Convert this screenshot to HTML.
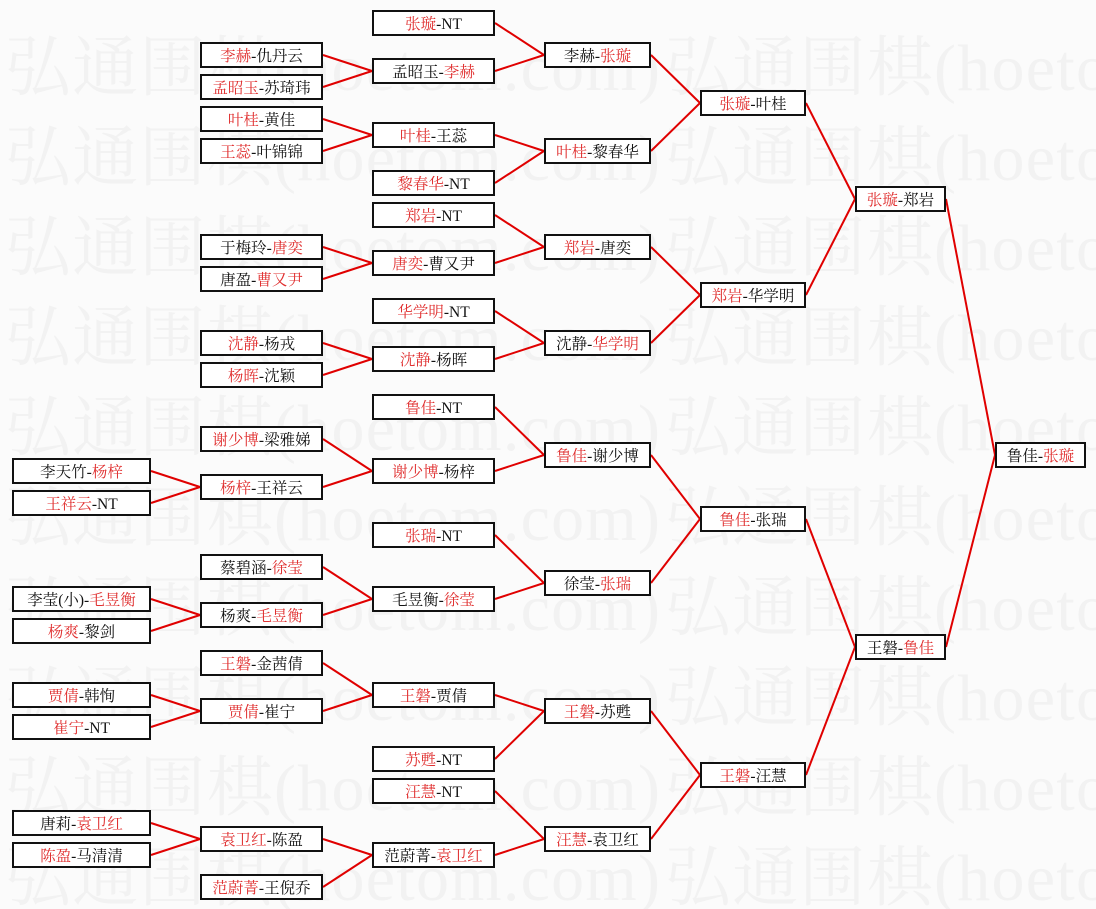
<!DOCTYPE html>
<html>
<head>
<meta charset="utf-8">
<style>
  html, body { margin:0; padding:0; background:#fbfbfb; }
  svg { display:block; }
  .wm { font-family:"Liberation Serif","Noto Serif CJK SC",serif; font-size:66px; fill:#f2f2f2; }
  .lb { font-family:"Liberation Serif","Noto Serif CJK SC",serif; font-size:15.5px; fill:#111; text-anchor:middle; }
  .r { fill:#e03030; }
  .bx rect { fill:#fff; stroke:#111; stroke-width:2; }
  .ln line { stroke:#e00000; stroke-width:2; }
</style>
</head>
<body>
<svg width="1096" height="909" viewBox="0 0 1096 909" xmlns="http://www.w3.org/2000/svg">
  <rect x="0" y="0" width="1096" height="909" fill="#fbfbfb"/>
  <!-- watermark -->
  <g class="wm">
    <text x="5" y="90" textLength="655" lengthAdjust="spacing">弘通围棋(hoetom.com)</text><text x="665" y="90" textLength="655" lengthAdjust="spacing">弘通围棋(hoetom.com)</text>
    <text x="5" y="180" textLength="655" lengthAdjust="spacing">弘通围棋(hoetom.com)</text><text x="665" y="180" textLength="655" lengthAdjust="spacing">弘通围棋(hoetom.com)</text>
    <text x="5" y="270" textLength="655" lengthAdjust="spacing">弘通围棋(hoetom.com)</text><text x="665" y="270" textLength="655" lengthAdjust="spacing">弘通围棋(hoetom.com)</text>
    <text x="5" y="360" textLength="655" lengthAdjust="spacing">弘通围棋(hoetom.com)</text><text x="665" y="360" textLength="655" lengthAdjust="spacing">弘通围棋(hoetom.com)</text>
    <text x="5" y="450" textLength="655" lengthAdjust="spacing">弘通围棋(hoetom.com)</text><text x="665" y="450" textLength="655" lengthAdjust="spacing">弘通围棋(hoetom.com)</text>
    <text x="5" y="540" textLength="655" lengthAdjust="spacing">弘通围棋(hoetom.com)</text><text x="665" y="540" textLength="655" lengthAdjust="spacing">弘通围棋(hoetom.com)</text>
    <text x="5" y="630" textLength="655" lengthAdjust="spacing">弘通围棋(hoetom.com)</text><text x="665" y="630" textLength="655" lengthAdjust="spacing">弘通围棋(hoetom.com)</text>
    <text x="5" y="720" textLength="655" lengthAdjust="spacing">弘通围棋(hoetom.com)</text><text x="665" y="720" textLength="655" lengthAdjust="spacing">弘通围棋(hoetom.com)</text>
    <text x="5" y="810" textLength="655" lengthAdjust="spacing">弘通围棋(hoetom.com)</text><text x="665" y="810" textLength="655" lengthAdjust="spacing">弘通围棋(hoetom.com)</text>
    <text x="5" y="900" textLength="655" lengthAdjust="spacing">弘通围棋(hoetom.com)</text><text x="665" y="900" textLength="655" lengthAdjust="spacing">弘通围棋(hoetom.com)</text>
  </g>

  <!-- connectors -->
  <g class="ln">
    <line x1="151" y1="471" x2="200" y2="487"/><line x1="151" y1="503" x2="200" y2="487"/>
    <line x1="151" y1="599" x2="200" y2="615"/><line x1="151" y1="631" x2="200" y2="615"/>
    <line x1="151" y1="695" x2="200" y2="711"/><line x1="151" y1="727" x2="200" y2="711"/>
    <line x1="151" y1="823" x2="200" y2="839"/><line x1="151" y1="855" x2="200" y2="839"/>
    <line x1="323" y1="55" x2="372" y2="71"/><line x1="323" y1="87" x2="372" y2="71"/>
    <line x1="323" y1="119" x2="372" y2="135"/><line x1="323" y1="151" x2="372" y2="135"/>
    <line x1="323" y1="247" x2="372" y2="263"/><line x1="323" y1="279" x2="372" y2="263"/>
    <line x1="323" y1="343" x2="372" y2="359"/><line x1="323" y1="375" x2="372" y2="359"/>
    <line x1="323" y1="439" x2="372" y2="471"/><line x1="323" y1="487" x2="372" y2="471"/>
    <line x1="323" y1="567" x2="372" y2="599"/><line x1="323" y1="615" x2="372" y2="599"/>
    <line x1="323" y1="663" x2="372" y2="695"/><line x1="323" y1="711" x2="372" y2="695"/>
    <line x1="323" y1="839" x2="372" y2="855"/><line x1="323" y1="887" x2="372" y2="855"/>
    <line x1="495" y1="23" x2="544" y2="55"/><line x1="495" y1="71" x2="544" y2="55"/>
    <line x1="495" y1="135" x2="544" y2="151"/><line x1="495" y1="183" x2="544" y2="151"/>
    <line x1="495" y1="215" x2="544" y2="247"/><line x1="495" y1="263" x2="544" y2="247"/>
    <line x1="495" y1="311" x2="544" y2="343"/><line x1="495" y1="359" x2="544" y2="343"/>
    <line x1="495" y1="407" x2="544" y2="455"/><line x1="495" y1="471" x2="544" y2="455"/>
    <line x1="495" y1="535" x2="544" y2="583"/><line x1="495" y1="599" x2="544" y2="583"/>
    <line x1="495" y1="695" x2="544" y2="711"/><line x1="495" y1="759" x2="544" y2="711"/>
    <line x1="495" y1="791" x2="544" y2="839"/><line x1="495" y1="855" x2="544" y2="839"/>
    <line x1="651" y1="55" x2="700" y2="103"/><line x1="651" y1="151" x2="700" y2="103"/>
    <line x1="651" y1="247" x2="700" y2="295"/><line x1="651" y1="343" x2="700" y2="295"/>
    <line x1="651" y1="455" x2="700" y2="519"/><line x1="651" y1="583" x2="700" y2="519"/>
    <line x1="651" y1="711" x2="700" y2="775"/><line x1="651" y1="839" x2="700" y2="775"/>
    <line x1="806" y1="103" x2="855" y2="199"/><line x1="806" y1="295" x2="855" y2="199"/>
    <line x1="806" y1="519" x2="855" y2="647"/><line x1="806" y1="775" x2="855" y2="647"/>
    <line x1="946" y1="199" x2="995" y2="455"/><line x1="946" y1="647" x2="995" y2="455"/>
  </g>

  <!-- boxes -->
  <g class="bx">
    <rect x="13" y="459" width="137" height="24"/>
    <rect x="13" y="491" width="137" height="24"/>
    <rect x="13" y="587" width="137" height="24"/>
    <rect x="13" y="619" width="137" height="24"/>
    <rect x="13" y="683" width="137" height="24"/>
    <rect x="13" y="715" width="137" height="24"/>
    <rect x="13" y="811" width="137" height="24"/>
    <rect x="13" y="843" width="137" height="24"/>
    <rect x="201" y="43" width="121" height="24"/>
    <rect x="201" y="75" width="121" height="24"/>
    <rect x="201" y="107" width="121" height="24"/>
    <rect x="201" y="139" width="121" height="24"/>
    <rect x="201" y="235" width="121" height="24"/>
    <rect x="201" y="267" width="121" height="24"/>
    <rect x="201" y="331" width="121" height="24"/>
    <rect x="201" y="363" width="121" height="24"/>
    <rect x="201" y="427" width="121" height="24"/>
    <rect x="201" y="475" width="121" height="24"/>
    <rect x="201" y="555" width="121" height="24"/>
    <rect x="201" y="603" width="121" height="24"/>
    <rect x="201" y="651" width="121" height="24"/>
    <rect x="201" y="699" width="121" height="24"/>
    <rect x="201" y="827" width="121" height="24"/>
    <rect x="201" y="875" width="121" height="24"/>
    <rect x="373" y="11" width="121" height="24"/>
    <rect x="373" y="59" width="121" height="24"/>
    <rect x="373" y="123" width="121" height="24"/>
    <rect x="373" y="171" width="121" height="24"/>
    <rect x="373" y="203" width="121" height="24"/>
    <rect x="373" y="251" width="121" height="24"/>
    <rect x="373" y="299" width="121" height="24"/>
    <rect x="373" y="347" width="121" height="24"/>
    <rect x="373" y="395" width="121" height="24"/>
    <rect x="373" y="459" width="121" height="24"/>
    <rect x="373" y="523" width="121" height="24"/>
    <rect x="373" y="587" width="121" height="24"/>
    <rect x="373" y="683" width="121" height="24"/>
    <rect x="373" y="747" width="121" height="24"/>
    <rect x="373" y="779" width="121" height="24"/>
    <rect x="373" y="843" width="121" height="24"/>
    <rect x="545" y="43" width="105" height="24"/>
    <rect x="545" y="139" width="105" height="24"/>
    <rect x="545" y="235" width="105" height="24"/>
    <rect x="545" y="331" width="105" height="24"/>
    <rect x="545" y="443" width="105" height="24"/>
    <rect x="545" y="571" width="105" height="24"/>
    <rect x="545" y="699" width="105" height="24"/>
    <rect x="545" y="827" width="105" height="24"/>
    <rect x="701" y="91" width="104" height="24"/>
    <rect x="701" y="283" width="104" height="24"/>
    <rect x="701" y="507" width="104" height="24"/>
    <rect x="701" y="763" width="104" height="24"/>
    <rect x="856" y="187" width="89" height="24"/>
    <rect x="856" y="635" width="89" height="24"/>
    <rect x="996" y="443" width="89" height="24"/>
  </g>

  <!-- labels -->
  <g class="lb">
    <text x="81.5" y="477">李天竹-<tspan class="r">杨梓</tspan></text>
    <text x="81.5" y="509"><tspan class="r">王祥云</tspan>-NT</text>
    <text x="81.5" y="605">李莹(小)-<tspan class="r">毛昱衡</tspan></text>
    <text x="81.5" y="637"><tspan class="r">杨爽</tspan>-黎剑</text>
    <text x="81.5" y="701"><tspan class="r">贾倩</tspan>-韩恂</text>
    <text x="81.5" y="733"><tspan class="r">崔宁</tspan>-NT</text>
    <text x="81.5" y="829">唐莉-<tspan class="r">袁卫红</tspan></text>
    <text x="81.5" y="861"><tspan class="r">陈盈</tspan>-马清清</text>
    <text x="261.5" y="61"><tspan class="r">李赫</tspan>-仇丹云</text>
    <text x="261.5" y="93"><tspan class="r">孟昭玉</tspan>-苏琦玮</text>
    <text x="261.5" y="125"><tspan class="r">叶桂</tspan>-黄佳</text>
    <text x="261.5" y="157"><tspan class="r">王蕊</tspan>-叶锦锦</text>
    <text x="261.5" y="253">于梅玲-<tspan class="r">唐奕</tspan></text>
    <text x="261.5" y="285">唐盈-<tspan class="r">曹又尹</tspan></text>
    <text x="261.5" y="349"><tspan class="r">沈静</tspan>-杨戎</text>
    <text x="261.5" y="381"><tspan class="r">杨晖</tspan>-沈颖</text>
    <text x="261.5" y="445"><tspan class="r">谢少博</tspan>-梁雅娣</text>
    <text x="261.5" y="493"><tspan class="r">杨梓</tspan>-王祥云</text>
    <text x="261.5" y="573">蔡碧涵-<tspan class="r">徐莹</tspan></text>
    <text x="261.5" y="621">杨爽-<tspan class="r">毛昱衡</tspan></text>
    <text x="261.5" y="669"><tspan class="r">王磐</tspan>-金茜倩</text>
    <text x="261.5" y="717"><tspan class="r">贾倩</tspan>-崔宁</text>
    <text x="261.5" y="845"><tspan class="r">袁卫红</tspan>-陈盈</text>
    <text x="261.5" y="893"><tspan class="r">范蔚菁</tspan>-王倪乔</text>
    <text x="433.5" y="29"><tspan class="r">张璇</tspan>-NT</text>
    <text x="433.5" y="77">孟昭玉-<tspan class="r">李赫</tspan></text>
    <text x="433.5" y="141"><tspan class="r">叶桂</tspan>-王蕊</text>
    <text x="433.5" y="189"><tspan class="r">黎春华</tspan>-NT</text>
    <text x="433.5" y="221"><tspan class="r">郑岩</tspan>-NT</text>
    <text x="433.5" y="269"><tspan class="r">唐奕</tspan>-曹又尹</text>
    <text x="433.5" y="317"><tspan class="r">华学明</tspan>-NT</text>
    <text x="433.5" y="365"><tspan class="r">沈静</tspan>-杨晖</text>
    <text x="433.5" y="413"><tspan class="r">鲁佳</tspan>-NT</text>
    <text x="433.5" y="477"><tspan class="r">谢少博</tspan>-杨梓</text>
    <text x="433.5" y="541"><tspan class="r">张瑞</tspan>-NT</text>
    <text x="433.5" y="605">毛昱衡-<tspan class="r">徐莹</tspan></text>
    <text x="433.5" y="701"><tspan class="r">王磐</tspan>-贾倩</text>
    <text x="433.5" y="765"><tspan class="r">苏甦</tspan>-NT</text>
    <text x="433.5" y="797"><tspan class="r">汪慧</tspan>-NT</text>
    <text x="433.5" y="861">范蔚菁-<tspan class="r">袁卫红</tspan></text>
    <text x="597.5" y="61">李赫-<tspan class="r">张璇</tspan></text>
    <text x="597.5" y="157"><tspan class="r">叶桂</tspan>-黎春华</text>
    <text x="597.5" y="253"><tspan class="r">郑岩</tspan>-唐奕</text>
    <text x="597.5" y="349">沈静-<tspan class="r">华学明</tspan></text>
    <text x="597.5" y="461"><tspan class="r">鲁佳</tspan>-谢少博</text>
    <text x="597.5" y="589">徐莹-<tspan class="r">张瑞</tspan></text>
    <text x="597.5" y="717"><tspan class="r">王磐</tspan>-苏甦</text>
    <text x="597.5" y="845"><tspan class="r">汪慧</tspan>-袁卫红</text>
    <text x="753" y="109"><tspan class="r">张璇</tspan>-叶桂</text>
    <text x="753" y="301"><tspan class="r">郑岩</tspan>-华学明</text>
    <text x="753" y="525"><tspan class="r">鲁佳</tspan>-张瑞</text>
    <text x="753" y="781"><tspan class="r">王磐</tspan>-汪慧</text>
    <text x="900.5" y="205"><tspan class="r">张璇</tspan>-郑岩</text>
    <text x="900.5" y="653">王磐-<tspan class="r">鲁佳</tspan></text>
    <text x="1040.5" y="461">鲁佳-<tspan class="r">张璇</tspan></text>
  </g>
</svg>
</body>
</html>
